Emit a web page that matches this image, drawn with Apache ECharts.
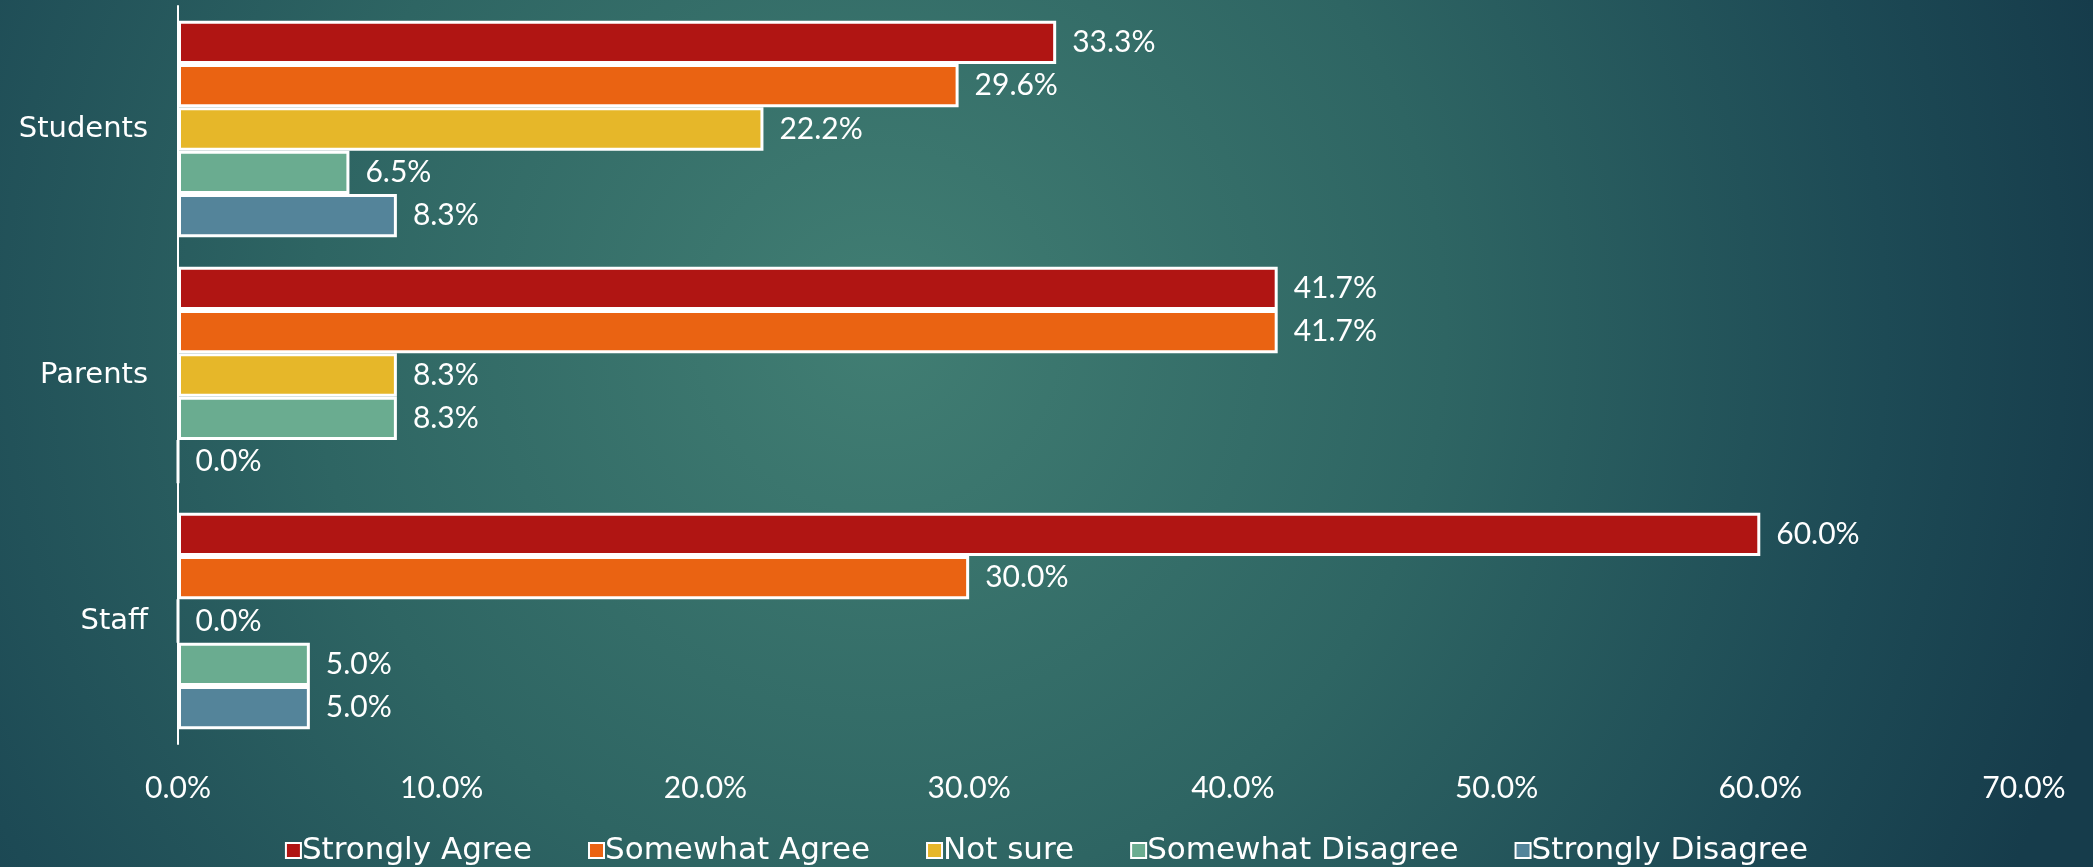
<!DOCTYPE html>
<html>
<head>
<meta charset="utf-8">
<script src="https://cdn.jsdelivr.net/npm/echarts@6/dist/echarts.min.js"></script>
<style>
  html, body { margin: 0; padding: 0; }
  #chart { width: 2093px; height: 867px; }
</style>
</head>
<body>
<div id="chart"></div>
<script>
const groups = ['Students', 'Parents', 'Staff']
const seriesNames = ['Strongly Agree', 'Somewhat Agree', 'Not sure', 'Somewhat Disagree', 'Strongly Disagree']
const stronglyAgree = [33.3, 41.7, 60.0]
const somewhatAgree = [29.6, 41.7, 30.0]
const notSure = [22.2, 8.3, 0.0]
const somewhatDisagree = [6.5, 8.3, 5.0]
const stronglyDisagree = [8.3, 0.0, 5.0]
const colors = ['#B01513', '#EA6312', '#E6B729', '#6AAC90', '#54849A']

const values = [stronglyAgree, somewhatAgree, notSure, somewhatDisagree, stronglyDisagree]
// wide font for words, narrower one for the numbers
const wordFont = '"DejaVu Sans", sans-serif'
const numFont = 'Lato, "Noto Sans", sans-serif'

const chart = echarts.init(document.getElementById('chart'))

chart.setOption({
  backgroundColor: {
    type: 'radial',
    x: 0.42,
    y: 0.38,
    r: 1.45,
    colorStops: [
      { offset: 0, color: '#417E73' },
      { offset: 0.45, color: '#2E6563' },
      { offset: 0.8, color: '#1D4A55' },
      { offset: 1, color: '#163C4B' }
    ]
  },
  animation: false,
  grid: {
    left: 178,
    right: 69,
    top: 6,
    bottom: 123,
    containLabel: false
  },
  legend: {
    top: 830,
    left: 'center',
    itemWidth: 15,
    itemHeight: 15,
    itemGap: 56,
    icon: 'rect',
    itemStyle: { borderColor: '#fff', borderWidth: 2 },
    textStyle: { color: '#fff', fontSize: 31, fontFamily: wordFont, padding: [0, 0, 0, -4] },
    data: seriesNames
  },
  xAxis: {
    type: 'value',
    min: 0,
    max: 70,
    interval: 10,
    axisLine: { show: false },
    axisTick: { show: false },
    splitLine: { show: false },
    axisLabel: {
      color: '#fff',
      fontSize: 30,
      fontFamily: numFont,
      margin: 29,
      formatter: v => v.toFixed(1) + '%'
    }
  },
  yAxis: {
    type: 'category',
    inverse: true,
    data: groups,
    axisLine: { show: true, lineStyle: { color: '#fff', width: 2 } },
    axisTick: { show: false },
    axisLabel: {
      color: '#fff',
      fontSize: 29,
      fontFamily: wordFont,
      margin: 30
    }
  },
  series: seriesNames.map((name, i) => ({
    name,
    type: 'bar',
    data: values[i],
    barGap: '0%',
    barCategoryGap: '12%',
    itemStyle: {
      color: colors[i],
      borderColor: '#fff',
      borderWidth: 3
    },
    label: {
      show: true,
      position: 'right',
      distance: 16,
      color: '#fff',
      fontSize: 30,
      fontFamily: numFont,
      formatter: p => p.value.toFixed(1) + '%'
    }
  }))
})
</script>
</body>
</html>
